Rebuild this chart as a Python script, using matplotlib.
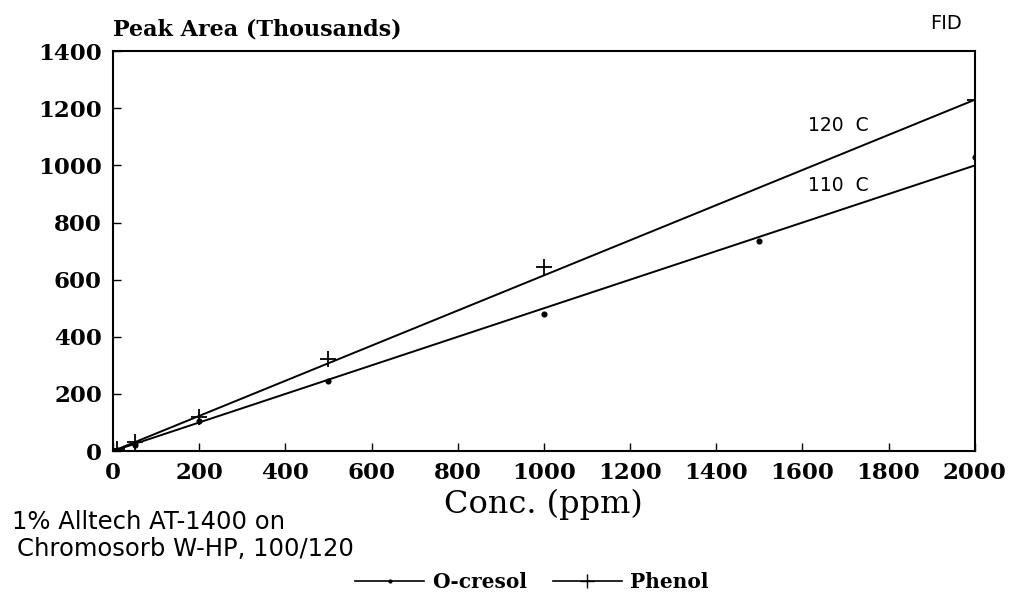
import matplotlib
matplotlib.use("Agg")
import matplotlib.pyplot as plt

conc_phenol = [10, 50, 200, 500, 1000, 2000]
phenol = [8, 33, 120, 322, 644, 1229]
conc_cresol = [10, 50, 200, 500, 1000, 1500, 2000]
cresol = [5, 22, 105, 245, 480, 735, 1030]

# calibration lines
fit_x = [0, 2000]
fit_120 = [0, 1230]
fit_110 = [0, 1000]

xticks = list(range(0, 2001, 200))
yticks = list(range(0, 1401, 200))

serif = ["DejaVu Serif"]
sans = ["DejaVu Sans"]


def main():
    fig = plt.figure(figsize=(10.09, 6.03), dpi=100)
    ax = fig.add_axes([0.112, 0.252, 0.854, 0.663])

    ax.plot(fit_x, fit_120, color="black", lw=1.4)
    ax.plot(fit_x, fit_110, color="black", lw=1.4)
    ax.plot(conc_cresol, cresol, ls="none", marker="o", ms=3.4,
            color="black")
    ax.plot(conc_phenol, phenol, ls="none", marker="+", ms=11, mew=1.3,
            color="black")

    ax.set_xlim(0, 2000)
    ax.set_ylim(0, 1400)
    ax.set_xticks(xticks)
    ax.set_yticks(yticks)
    ax.tick_params(direction="in", length=6, width=1, pad=8)
    for lab in ax.get_xticklabels() + ax.get_yticklabels():
        lab.set_family(serif)
        lab.set_fontweight("bold")
        lab.set_fontsize(16.5)
    for s in ax.spines.values():
        s.set_linewidth(1.5)

    ax.set_xlabel("Conc. (ppm)", family=serif, fontsize=23, labelpad=3)
    fig.text(0.112, 0.933, "Peak Area (Thousands)", family=serif,
             fontweight="bold", fontsize=16, ha="left", va="bottom")
    fig.text(0.938, 0.977, "FID", family=sans, fontsize=14,
             ha="center", va="top")

    ax.text(1684, 1140, "120  C", family=sans, fontsize=13.5,
            ha="center", va="center")
    ax.text(1684, 931, "110  C", family=sans, fontsize=13.5,
            ha="center", va="center")

    fig.text(0.012, 0.135, "1% Alltech AT-1400 on", family=sans,
             fontsize=17.5, ha="left", va="center")
    fig.text(0.017, 0.09, "Chromosorb W-HP, 100/120", family=sans,
             fontsize=17.5, ha="left", va="center")

    h1, = ax.plot([], [], color="black", lw=1.2, marker="o", ms=2,
                  label="O-cresol")
    h2, = ax.plot([], [], color="black", lw=1.2, marker="+", ms=10,
                  label="Phenol")
    fig.legend(handles=[h1, h2], loc="center", bbox_to_anchor=(0.527, 0.035),
               ncol=2, frameon=False, handlelength=3.4, columnspacing=1.3,
               handletextpad=0.4,
               prop={"family": serif, "weight": "bold", "size": 14.5})

    fig.savefig("out.png", dpi=100)


main()
